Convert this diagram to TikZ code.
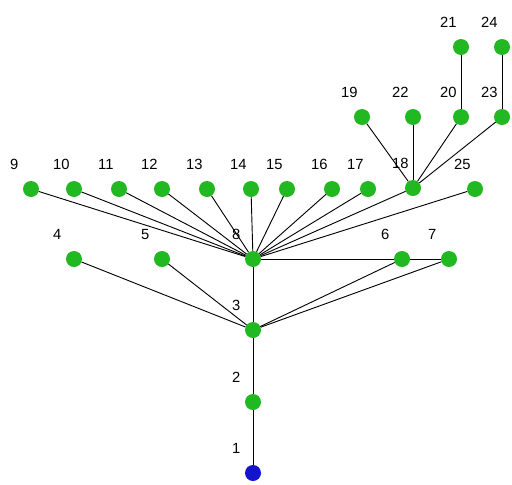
\documentclass[tikz,border=0pt]{standalone}
\usepackage{fontspec}
\setmainfont{Liberation Sans}
\definecolor{dotgreen}{RGB}{34,184,34}
\definecolor{dotblue}{RGB}{20,20,205}
\begin{document}
\begin{tikzpicture}
[x=0.5mm,y=-0.5mm,
 dot/.style={circle,fill=dotgreen,inner sep=0pt,minimum size=8mm},
 rootdot/.style={dot,fill=dotblue},
 lbl/.style={anchor=base west,inner sep=0pt,font=\fontsize{21}{25}\selectfont},
 edge/.style={line width=1.3pt}]
\useasboundingbox (0,0) rectangle (512,484);
%% vertices with their numbers
\foreach \i/\x/\y in {2/253/402, 3/253/330, 8/253/259, 4/74/259, 5/162/259,
  6/402/259, 7/449/259, 9/31/189, 10/74/189, 11/119/189, 12/162/189,
  13/207/189, 14/251/189, 15/287/189, 16/332/189, 17/368/189, 18/413/188,
  25/475/189, 19/362/117, 22/413/117, 20/461/117, 23/502/117,
  21/461/47, 24/502/47}
{
  \node[dot] (n\i) at (\x,\y) {};
  \node[lbl] (l\i) at ([shift={(-21,-20)}]\x,\y) {\i};
}
\node[rootdot] (n1) at (253,473) {};
\node[lbl] (l1) at ([shift={(-21,-20)}]253,473) {1};
%% draw the tree
\foreach \a/\b in {1/2, 2/3, 3/8, 3/4, 3/5, 3/6, 3/7, 8/6, 6/7,
  18/19, 18/22, 18/20, 18/23, 20/21, 23/24}
{
  \draw[edge] (n\a) -- (n\b);
}
\foreach \b in {9,...,18,25}
{
  \draw[edge] (n8) -- (n\b);
}
\end{tikzpicture}
\end{document}
